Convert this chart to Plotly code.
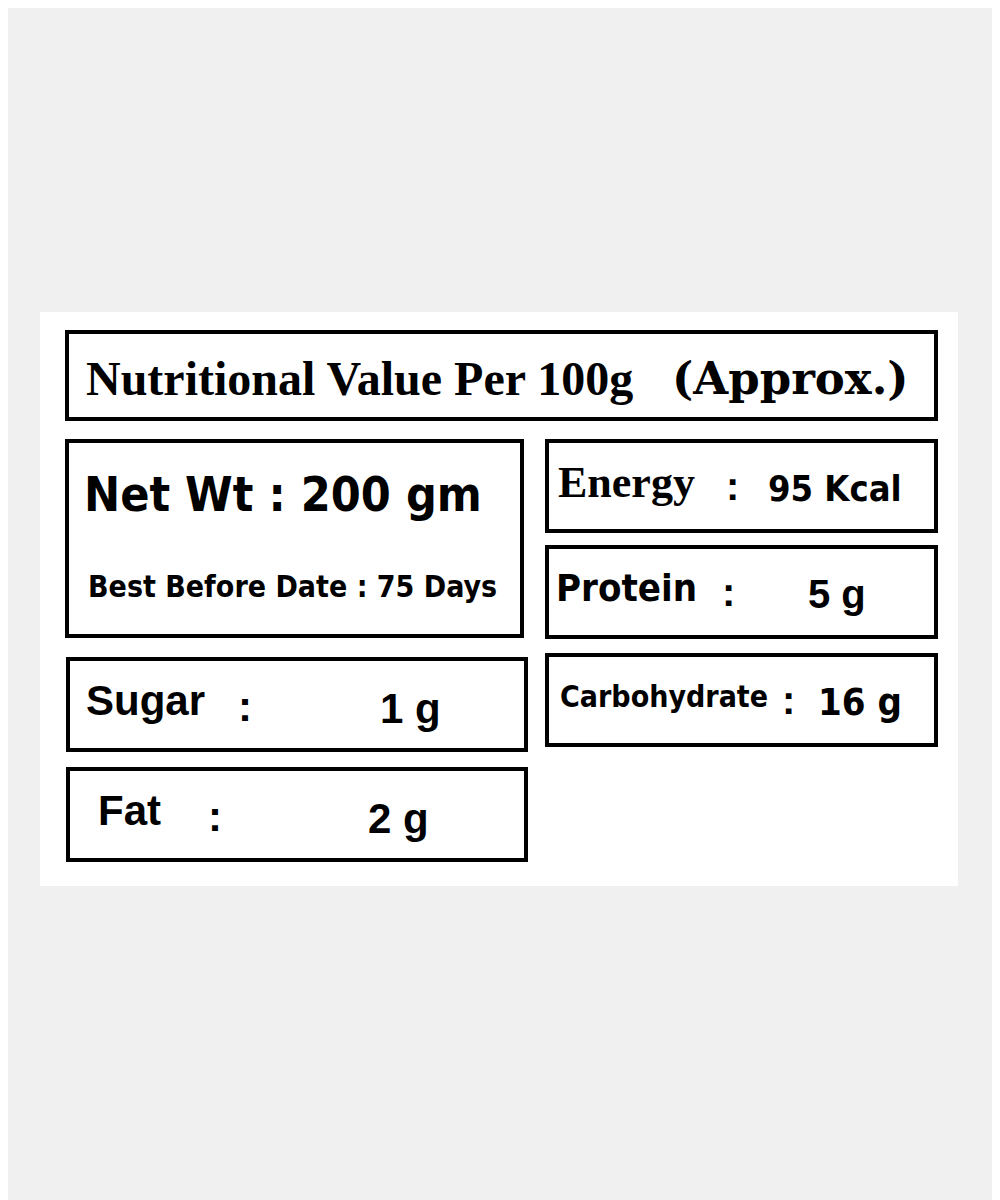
import plotly.graph_objects as go

# label content
title_main = "Nutritional Value Per 100g"
title_note = "(Approx.)"
net_wt = "Net Wt : 200 gm"
best_before = "Best Before Date : 75 Days"
left_names = ["Sugar", "Fat"]
left_values = ["1 g", "2 g"]
right_names = ["Energy", "Protein", "Carbohydrate"]
right_values = ["95 Kcal", "5 g", "16 g"]

fig = go.Figure()

BOLD = "Liberation Sans"
COND = "DejaVu Sans Condensed"
SERIF = "Liberation Serif"


def box(x0, y0, x1, y1):
    fig.add_shape(type="rect", x0=x0, y0=y0, x1=x1, y1=y1,
                  line=dict(color="black", width=4), fillcolor="white")


def text(x, y, s, size, family=BOLD, anchor="left"):
    fig.add_annotation(x=x, y=y, text=s, showarrow=False, xanchor=anchor,
                       yanchor="middle", font=dict(size=size, family=family, color="black"))


# white card
fig.add_shape(type="rect", x0=40, y0=312, x1=958, y1=886,
              line=dict(width=0), fillcolor="white", layer="below")

# title
box(67, 332, 936, 419)
text(84, 378, "<b>" + title_main + "</b>", 48, SERIF)
text(670, 378, "<b>" + title_note + "</b>", 45, "DejaVu Serif")

# net weight
box(67, 441, 522, 636)
text(82, 494, "<b>" + net_wt + "</b>", 48, COND)
text(86, 586, "<b>" + best_before + "</b>", 30, COND)

# left rows
for name, val, (y0, y1), nx, cx, vx in zip(left_names, left_values,
                                          [(659, 750), (769, 860)],
                                          [84, 96], [236, 206], [378, 366]):
    box(68, y0, 526, y1)
    ym = (y0 + y1) / 2
    text(nx, ym - 4, "<b>" + name + "</b>", 42)
    text(cx, ym + 2, "<b>:</b>", 42)
    text(vx, ym + 4, "<b>" + val + "</b>", 42)

# right rows
rows = [(441, 531), (547, 637), (655, 745)]
name_x = [556, 554, 558]
colon_x = [724, 720, 780]
val_x = [766, 806, 816]
name_font = [(SERIF, 44), (COND, 38), (COND, 30)]
val_font = [(COND, 36), (BOLD, 40), (COND, 38)]
for i, (name, val) in enumerate(zip(right_names, right_values)):
    y0, y1 = rows[i]
    ym = (y0 + y1) / 2
    box(547, y0, 936, y1)
    text(name_x[i], ym - 4, "<b>" + name + "</b>", name_font[i][1], name_font[i][0])
    text(colon_x[i], ym, "<b>:</b>", 40)
    text(val_x[i], ym + 2, "<b>" + val + "</b>", val_font[i][1], val_font[i][0])

# page has an 8px body margin; shift ranges so data units equal screen pixels
fig.update_xaxes(range=[8, 1008], visible=False, fixedrange=True)
fig.update_yaxes(range=[1208, 8], visible=False, fixedrange=True)
fig.update_layout(width=1000, height=1200, margin=dict(l=0, r=0, t=0, b=0),
                  paper_bgcolor="#f0f0f0", plot_bgcolor="#f0f0f0", showlegend=False)

fig.write_html("out.html")
